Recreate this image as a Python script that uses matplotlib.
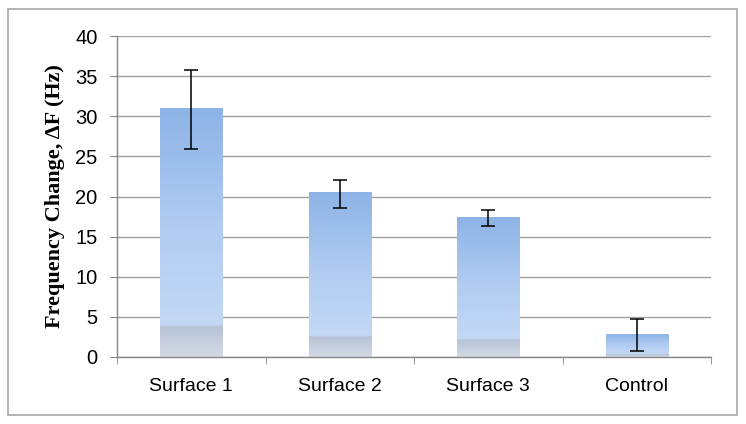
import numpy as np
import matplotlib
matplotlib.use("Agg")
import matplotlib.pyplot as plt
from matplotlib.colors import LinearSegmentedColormap
from matplotlib.patches import Rectangle

# data
labels = ["Surface 1", "Surface 2", "Surface 3", "Control"]
values = [31.0, 20.5, 17.4, 2.8]
err_hi = [35.8, 22.1, 18.3, 4.7]
err_lo = [25.9, 18.6, 16.3, 0.7]

fig = plt.figure(figsize=(7.46, 4.24), dpi=100)
fig.patch.set_facecolor("white")

# outer chart border
fig.patches.append(Rectangle((8 / 746, 1 - 415 / 424), 729 / 746, 406 / 424,
                             transform=fig.transFigure, fill=False,
                             edgecolor="#a6a6a6", linewidth=1.2))

ax = fig.add_axes([117 / 746, 67 / 424, 594 / 746, 321 / 424])

x = np.arange(len(labels))
width = 0.42

# bottom -> top gradient: greyish foot, light blue, medium blue top
cmap = LinearSegmentedColormap.from_list(
    "bar", [(0.0, "#d3dae6"), (0.12, "#b7c3d6"), (0.13, "#c3d8f5"),
            (0.5, "#b2cdf2"), (1.0, "#8db3e6")])
grad = np.linspace(0, 1, 256).reshape(-1, 1)

bars = ax.bar(x, values, width, color="none", edgecolor="none", zorder=2)
for b in bars:
    bx, by = b.get_x(), b.get_y()
    bw, bh = b.get_width(), b.get_height()
    ax.imshow(grad, cmap=cmap, origin="lower", aspect="auto",
              extent=[bx, bx + bw, by, by + bh], zorder=2)

v = np.array(values)
yerr = [v - np.array(err_lo), np.array(err_hi) - v]
ax.errorbar(x, values, yerr=yerr, fmt="none", ecolor="black",
            elinewidth=1.1, capsize=5, capthick=1.1, zorder=3)

ax.set_xlim(-0.5, len(labels) - 0.5)
ax.set_ylim(0, 40)
ax.set_yticks(np.arange(0, 41, 5))
ax.yaxis.grid(True, color="#a0a0a0", linewidth=1.0, zorder=0)
ax.set_axisbelow(True)

ax.set_xticks(x)
ax.set_xticklabels(labels, fontsize=14, family="Liberation Sans")
ax.set_xticks(np.arange(-0.5, len(labels), 1), minor=True)
ax.tick_params(axis="x", which="major", length=0, pad=15)
ax.tick_params(axis="x", which="minor", length=5, color="#868686")
ax.tick_params(axis="y", length=5, color="#868686", labelsize=14.5, pad=9)
for t in ax.get_yticklabels():
    t.set_family("Liberation Sans")

for s in ["top", "right"]:
    ax.spines[s].set_visible(False)
for s in ["left", "bottom"]:
    ax.spines[s].set_color("#868686")
    ax.spines[s].set_linewidth(1.0)

ax.set_ylabel("Frequency Change, ΔF (Hz)", fontsize=16, fontweight="bold",
              family="Liberation Serif", labelpad=7)

fig.savefig("out.png", dpi=100)
